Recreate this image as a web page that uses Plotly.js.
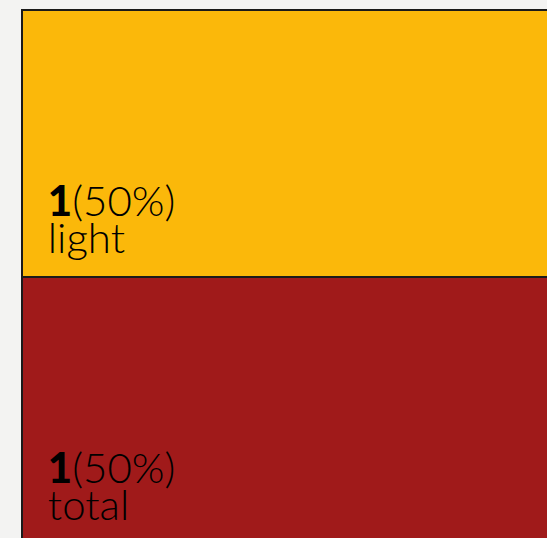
<!DOCTYPE html>
<html>
<head>
<meta charset="utf-8">
<script src="https://cdn.plot.ly/plotly-3.0.1.min.js"></script>
<style>
  html, body { margin: 0; padding: 0; background: #f3f3f2; overflow: hidden; }
  #chart { width: 620px; height: 560px; }
</style>
</head>
<body>
<div id="chart"></div>
<script>
const labels = ["light", "total"];
const parents = ["", ""];
const values = [1, 1];
const colors = ["#fbb80a", "#a01a1a"];

const big = "<span style='font-size:42px'>";
const tmpl = big + "\u00a0\u00a0<span style='font-weight:900'>%{value}</span>(%{percentRoot:.0%})</span>" +
             "<br><br>" + big + "\u00a0\u00a0%{label}</span><br>\u00a0";

Plotly.newPlot("chart", [{
  type: "treemap",
  labels: labels,
  parents: parents,
  values: values,
  sort: false,
  branchvalues: "total",
  marker: { colors: colors, line: { color: "#1a1a1a", width: 2 }, pad: { t: 0, l: 0, r: 0, b: 0 } },
  tiling: { packing: "slice", pad: 0 },
  pathbar: { visible: false },
  textposition: "bottom left",
  texttemplate: tmpl,
  textfont: { family: "Lato, sans-serif", size: 14.2, weight: 300, color: "#000000" },
  hoverinfo: "label+value+percent root"
}], {
  width: 620,
  height: 560,
  margin: { l: 22, t: 10, r: 0, b: 16 },
  paper_bgcolor: "#f3f3f2",
  showlegend: false
}, { displayModeBar: false, staticPlot: true });
</script>
</body>
</html>
